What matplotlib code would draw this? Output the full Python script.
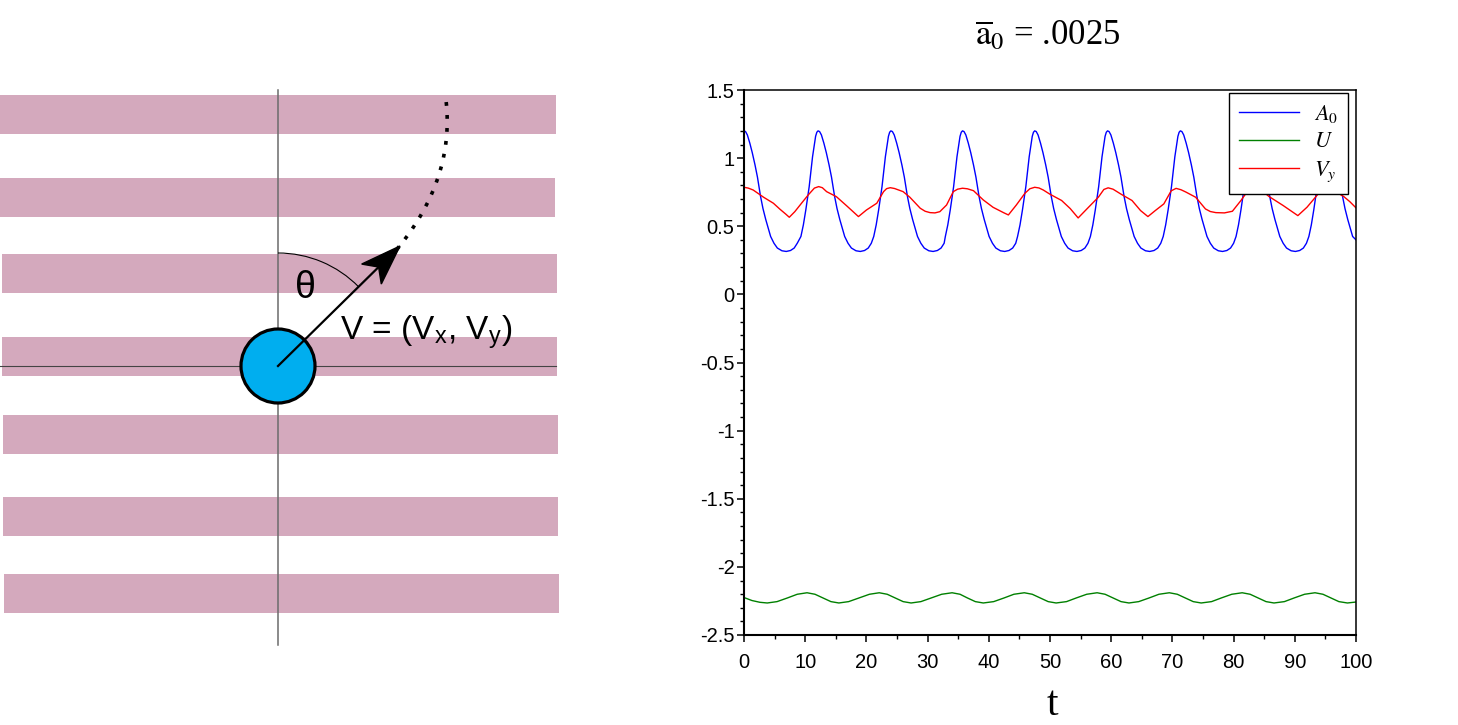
import matplotlib
matplotlib.use("Agg")
import matplotlib.pyplot as plt
from matplotlib.patches import Rectangle, Circle, Arc, Polygon
from matplotlib.ticker import MultipleLocator, FormatStrFormatter
import numpy as np

plt.rcParams['mathtext.fontset'] = 'stix'
plt.rcParams['font.family'] = ['Liberation Sans', 'DejaVu Sans']
plt.rcParams['axes.unicode_minus'] = False

# ---- chart data ----
t_a0 = [0, .25, .55, .95, 1.35, 1.8, 2.2, 2.7, 3.1, 3.55, 4.35, 4.9, 5.45, 6.2, 6.9, 7.6, 8.2, 8.7, 9.3, 9.7, 10.1, 10.65, 11.2, 11.5, 11.7, 11.9,
        12.1, 12.35, 12.65, 13.05, 13.45, 13.9, 14.3, 14.8, 15.2, 15.65, 16.45, 17.0, 17.55, 18.3, 19.0, 19.7, 20.3, 20.8, 21.2, 21.6, 22.0, 22.55, 23.1, 23.4, 23.6, 23.8,
        24.0, 24.25, 24.55, 24.95, 25.35, 25.8, 26.2, 26.7, 27.1, 27.55, 28.35, 28.9, 29.45, 30.2, 30.9, 31.6, 32.2, 32.7, 32.9, 33.3, 33.7, 34.25, 34.8, 35.1, 35.3, 35.5,
        35.7, 35.95, 36.25, 36.65, 37.05, 37.5, 37.9, 38.4, 38.8, 39.25, 40.05, 40.6, 41.15, 41.9, 42.6, 43.3, 43.9, 44.4, 44.7, 45.1, 45.5, 46.05, 46.6, 46.9, 47.1, 47.3,
        47.5, 47.75, 48.05, 48.45, 48.85, 49.3, 49.7, 50.2, 50.6, 51.05, 51.85, 52.4, 52.95, 53.7, 54.4, 55.1, 55.7, 56.2, 56.6, 57.0, 57.4, 57.95, 58.5, 58.8, 59.0, 59.2,
        59.4, 59.65, 59.95, 60.35, 60.75, 61.2, 61.6, 62.1, 62.5, 62.95, 63.75, 64.3, 64.85, 65.6, 66.3, 67.0, 67.6, 68.1, 68.5, 68.9, 69.3, 69.85, 70.4, 70.7, 70.9, 71.1,
        71.3, 71.55, 71.85, 72.25, 72.65, 73.1, 73.5, 74.0, 74.4, 74.85, 75.65, 76.2, 76.75, 77.5, 78.2, 78.9, 79.5, 80.0, 80.4, 80.8, 81.2, 81.75, 82.3, 82.6, 82.8, 83.0,
        83.2, 83.45, 83.75, 84.15, 84.55, 85.0, 85.4, 85.9, 86.3, 86.75, 87.55, 88.1, 88.65, 89.4, 90.1, 90.8, 91.4, 91.9, 92.3, 92.7, 93.1, 93.65, 94.2, 94.5, 94.7, 94.9,
        95.1, 95.35, 95.65, 96.05, 96.45, 96.9, 97.3, 97.8, 98.2, 98.65, 99.45, 100]
a0 = [1.20, 1.195, 1.17, 1.11, 1.04, 0.95, 0.86, 0.72, 0.63, 0.55, 0.425, 0.375, 0.34, 0.32, 0.315, 0.322, 0.34, 0.375, 0.425, 0.51, 0.62, 0.79, 1.01, 1.10, 1.16, 1.19,
      1.20, 1.195, 1.17, 1.11, 1.04, 0.95, 0.86, 0.72, 0.63, 0.55, 0.425, 0.375, 0.34, 0.32, 0.315, 0.322, 0.34, 0.375, 0.425, 0.51, 0.62, 0.79, 1.01, 1.10, 1.16, 1.19,
      1.20, 1.195, 1.17, 1.11, 1.04, 0.95, 0.86, 0.72, 0.63, 0.55, 0.425, 0.375, 0.34, 0.32, 0.315, 0.322, 0.34, 0.375, 0.425, 0.51, 0.62, 0.79, 1.01, 1.10, 1.16, 1.19,
      1.20, 1.195, 1.17, 1.11, 1.04, 0.95, 0.86, 0.72, 0.63, 0.55, 0.425, 0.375, 0.34, 0.32, 0.315, 0.322, 0.34, 0.375, 0.425, 0.51, 0.62, 0.79, 1.01, 1.10, 1.16, 1.19,
      1.20, 1.195, 1.17, 1.11, 1.04, 0.95, 0.86, 0.72, 0.63, 0.55, 0.425, 0.375, 0.34, 0.32, 0.315, 0.322, 0.34, 0.375, 0.425, 0.51, 0.62, 0.79, 1.01, 1.10, 1.16, 1.19,
      1.20, 1.195, 1.17, 1.11, 1.04, 0.95, 0.86, 0.72, 0.63, 0.55, 0.425, 0.375, 0.34, 0.32, 0.315, 0.322, 0.34, 0.375, 0.425, 0.51, 0.62, 0.79, 1.01, 1.10, 1.16, 1.19,
      1.20, 1.195, 1.17, 1.11, 1.04, 0.95, 0.86, 0.72, 0.63, 0.55, 0.425, 0.375, 0.34, 0.32, 0.315, 0.322, 0.34, 0.375, 0.425, 0.51, 0.62, 0.79, 1.01, 1.10, 1.16, 1.19,
      1.20, 1.195, 1.17, 1.11, 1.04, 0.95, 0.86, 0.72, 0.63, 0.55, 0.425, 0.375, 0.34, 0.32, 0.315, 0.322, 0.34, 0.375, 0.425, 0.51, 0.62, 0.79, 1.01, 1.10, 1.16, 1.19,
      1.20, 1.195, 1.17, 1.11, 1.04, 0.95, 0.86, 0.72, 0.63, 0.55, 0.425, 0.40]

t_u = [0, 1.3, 2.6, 3.8, 5.4, 7.1, 8.7, 10.3, 11.6, 12.9, 14.2, 15.5, 17.1, 18.8, 20.5, 22.1,
       23.4, 24.7, 26.0, 27.3, 28.9, 30.6, 32.3, 34.0, 35.3, 36.5, 37.8, 39.1, 40.8, 42.5, 44.1, 45.8,
       47.1, 48.4, 49.7, 51.0, 52.7, 54.3, 56.0, 57.7, 59.0, 60.3, 61.6, 62.9, 64.5, 66.2, 67.8, 69.5,
       70.8, 72.1, 73.4, 74.7, 76.4, 78.0, 79.7, 81.4, 82.7, 84.0, 85.3, 86.6, 88.3, 89.9, 91.6, 93.3,
       94.6, 95.9, 97.2, 98.6, 100]
u = [-2.225, -2.247, -2.260, -2.265, -2.255, -2.228, -2.201, -2.190, -2.201, -2.228, -2.255, -2.265,
     -2.255, -2.228, -2.201, -2.190, -2.201, -2.228, -2.255, -2.265, -2.255, -2.228, -2.201, -2.190,
     -2.201, -2.228, -2.255, -2.265, -2.255, -2.228, -2.201, -2.190, -2.201, -2.228, -2.255, -2.265,
     -2.255, -2.228, -2.201, -2.190, -2.201, -2.228, -2.255, -2.265, -2.255, -2.228, -2.201, -2.190,
     -2.201, -2.228, -2.255, -2.265, -2.255, -2.228, -2.201, -2.190, -2.201, -2.228, -2.255, -2.265,
     -2.255, -2.228, -2.201, -2.190, -2.201, -2.228, -2.255, -2.265, -2.258]

vy_points = [(0, 0.786), (0.7, 0.780), (1.5, 0.766), (3.2, 0.713), (4.8, 0.669), (5.9, 0.624), (6.8, 0.590),
             (7.4, 0.566), (8.3, 0.607), (9.4, 0.669), (10.5, 0.730), (11.5, 0.780), (12.2, 0.791), (12.8, 0.783),
             (13.5, 0.754), (15.1, 0.717), (16.8, 0.649), (18.7, 0.571), (20.0, 0.619), (21.7, 0.669), (22.8, 0.754),
             (23.3, 0.776), (23.9, 0.783), (24.6, 0.777), (26.0, 0.754), (27.1, 0.713), (28.8, 0.632), (29.6, 0.610),
             (30.4, 0.600), (31.2, 0.598), (32.0, 0.607), (33.1, 0.656), (34.2, 0.754), (34.9, 0.772), (35.7, 0.779),
             (36.5, 0.775), (37.5, 0.761), (39.1, 0.693), (40.7, 0.639), (42.4, 0.600), (43.2, 0.583), (44.5, 0.656),
             (45.9, 0.742), (46.7, 0.775), (47.5, 0.786), (48.2, 0.781), (48.9, 0.766), (50.0, 0.735), (51.9, 0.689),
             (53.3, 0.630), (54.6, 0.561), (56.2, 0.635), (57.9, 0.713), (58.8, 0.770), (59.5, 0.782), (60.3, 0.772),
             (61.7, 0.733), (63.4, 0.689), (64.8, 0.615), (66.0, 0.571), (67.2, 0.615), (68.6, 0.664), (69.8, 0.760),
             (70.6, 0.778), (71.4, 0.768), (72.2, 0.751), (73.8, 0.713), (75.4, 0.627), (76.2, 0.608), (77.1, 0.600),
             (78.5, 0.598), (79.8, 0.610), (81.2, 0.689), (82.4, 0.765), (83.2, 0.780), (84.0, 0.774), (84.8, 0.755),
             (85.8, 0.718), (88.1, 0.652), (90.5, 0.578), (92.0, 0.640), (93.5, 0.720), (94.4, 0.770), (95.1, 0.780),
             (95.8, 0.774), (96.6, 0.755), (98.0, 0.718), (99.0, 0.680), (100, 0.635)]
t_vy = [p[0] for p in vy_points]
vy = [p[1] for p in vy_points]

series_labels = [r'$A_0$', r'$U$', r'$V_y$']
series_colors = ['#0000ff', '#008000', '#ff0000']

# ---- diagram layout (pixels) ----
stripe_tops = [95, 178, 254, 337, 415, 497, 574]
stripe_left = [0, 0, 2, 2, 3, 3, 4]
stripe_right = [556, 555, 557, 557, 558, 558, 559]
stripe_h = 39
ball_c = (278, 366)
arrow_tip = (400, 246)

fig = plt.figure(figsize=(14.58, 7.25), dpi=100)

# left: the sketch, drawn in pixel units
ax0 = fig.add_axes([0, 0, 1, 1])
ax0.set_xlim(0, 1458)
ax0.set_ylim(725, 0)
ax0.axis('off')

for top, l, r in zip(stripe_tops, stripe_left, stripe_right):
    ax0.add_patch(Rectangle((l, top), r - l, stripe_h, color='#d4a9bd', lw=0, zorder=1))

ax0.plot([278, 278], [90, 645], color='#6b6b6b', lw=1.1, zorder=2)
ax0.plot([0, 556], [366, 366], color='#444444', lw=0.8, zorder=2)

# theta arc (y axis inverted, so angles are mirrored)
d = np.array(arrow_tip, float) - np.array(ball_c, float)
ang = np.degrees(np.arctan2(d[1], d[0])) % 360
ax0.add_patch(Arc(ball_c, 226, 226, theta1=270, theta2=ang, color='black', lw=0.8, zorder=3))
ax0.text(305, 288, 'θ', fontsize=27, ha='center', va='center', zorder=5)

ax0.add_patch(Circle(ball_c, 37, facecolor='#00aeef', edgecolor='black', lw=2.3, zorder=4))

# arrow with notched head
u_d = d / np.hypot(*d)
n_d = np.array([-u_d[1], u_d[0]])
tip = np.array(arrow_tip, float)
L, W, notch = 40, 14, 10
ax0.plot([ball_c[0], tip[0] - (L - notch) * u_d[0]], [ball_c[1], tip[1] - (L - notch) * u_d[1]],
         color='black', lw=1.6, zorder=5)
head = [tip, tip - L * u_d + W * n_d, tip - (L - notch) * u_d, tip - L * u_d - W * n_d]
ax0.add_patch(Polygon(head, closed=True, color='black', zorder=6))

# dotted path continuing the trajectory (quadratic bezier)
p0, p1, p2 = np.array([398, 248.0]), np.array([455, 178.0]), np.array([446, 100.0])
s = np.linspace(0, 1, 200)[:, None]
bez = (1 - s) ** 2 * p0 + 2 * (1 - s) * s * p1 + s ** 2 * p2
ax0.plot(bez[:, 0], bez[:, 1], color='black', lw=2.6, linestyle=(0, (0.05, 3.55)),
         dash_capstyle='projecting', zorder=5)

ax0.text(340, 339, r'V = (V$_\mathregular{x}$, V$_\mathregular{y}$)', fontsize=24,
         ha='left', va='baseline', zorder=5)

# right: the time series
ax = fig.add_axes([744 / 1458, 1 - 635 / 725, 612 / 1458, 545 / 725])
lines = [(t_a0, a0), (t_u, u), (t_vy, vy)]
for (tt, yy), lab, col in zip(lines, series_labels, series_colors):
    ax.plot(tt, yy, color=col, lw=1.0, label=lab)

ax.set_xlim(0, 100)
ax.set_ylim(-2.5, 1.5)
ax.xaxis.set_major_locator(MultipleLocator(10))
ax.xaxis.set_minor_locator(MultipleLocator(5))
ax.yaxis.set_major_locator(MultipleLocator(0.5))
ax.yaxis.set_minor_locator(MultipleLocator(0.1))
ax.yaxis.set_major_formatter(FormatStrFormatter('%g'))
ax.tick_params(which='major', direction='out', length=5, width=1.1, labelsize=14.5)
ax.tick_params(axis='x', which='major', pad=8)
ax.tick_params(axis='y', which='major', pad=1.8)
ax.tick_params(which='minor', direction='out', length=3, width=1.0)
for side in ['left', 'bottom']:
    ax.spines[side].set_linewidth(1.5)
for side in ['top', 'right']:
    ax.spines[side].set_linewidth(1.1)

leg = ax.legend(loc='upper right', bbox_to_anchor=(0.987, 0.995), borderaxespad=0,
                fontsize=16, handlelength=2.7, handletextpad=0.68, labelspacing=0.3,
                borderpad=0.45, fancybox=False, framealpha=1, edgecolor='black')
leg.get_frame().set_linewidth(1.0)

fig.text(1048 / 1458, 1 - 45 / 725, r'$\overline{\mathrm{a}}_0$ = .0025', family='Liberation Serif',
         fontsize=25, ha='center', va='baseline')
fig.text(1052 / 1458, 10 / 725, 't', family='Liberation Serif', fontsize=30,
         ha='center', va='baseline')

fig.savefig('out.png', dpi=100)
